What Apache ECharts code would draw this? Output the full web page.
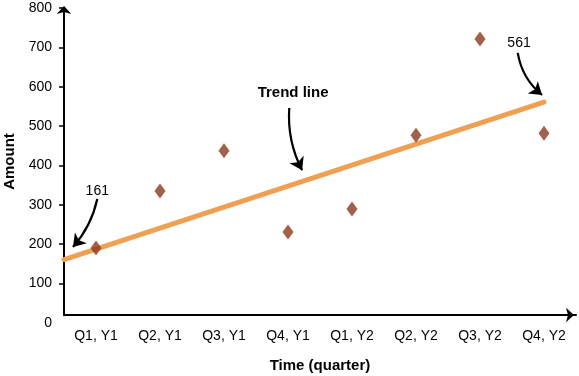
<!DOCTYPE html>
<html lang="en">

<head>
    <meta charset="UTF-8">
    <title>Trend line</title>
    <script src="https://cdn.jsdelivr.net/npm/echarts@6/dist/echarts.min.js"></script>
    <style>
        * {
            margin: 0;
            padding: 0
        }

        #main {
            width: 579px;
            height: 376px;
        }
    </style>
</head>

<body>
    <div id="main"></div>
    <script type="text/javascript">
        var quarters = ['Q1, Y1', 'Q2, Y1', 'Q3, Y1', 'Q4, Y1', 'Q1, Y2', 'Q2, Y2', 'Q3, Y2', 'Q4, Y2'];
        var amounts = [190, 335, 437, 231, 289, 477, 721, 482];
        var trendX = [0, 7.5];        // from the axis to the last quarter
        var trendY = [161, 561];
        var yTicks = [0, 100, 200, 300, 400, 500, 600, 700, 800];
        var yCross = 20;              // x axis crosses a bit above 0

        var font = 'Liberation Sans, Arial, sans-serif';
        var myChart = echarts.init(document.getElementById('main'));

        // curved arrow from [x0, y0] to [x1, y1]
        function arrow(x0, y0, x1, y1, c) {
            return { coords: [[x0, y0], [x1, y1]], lineStyle: { curveness: c } };
        }

        var option = {
            animation: false,
            grid: { left: 64, top: 8, width: 512, bottom: 61, outerBoundsMode: 'none', containLabel: false },
            xAxis: [
                {
                    type: 'category',
                    data: quarters,
                    boundaryGap: true,
                    name: 'Time (quarter)',
                    nameLocation: 'middle',
                    nameGap: 43,
                    nameMoveOverlap: false,
                    nameTextStyle: { fontFamily: font, fontSize: 15, fontWeight: 'bold', color: '#000' },
                    axisLine: {
                        lineStyle: { color: '#000', width: 2 },
                        symbol: ['none', 'arrow'],
                        symbolSize: [11, 8],
                        symbolOffset: [0, -2]
                    },
                    axisTick: { length: 6, lineStyle: { color: '#000', width: 1.5 } },
                    axisLabel: { interval: 0, margin: 14, fontFamily: font, fontSize: 14, color: '#000' }
                },
                { type: 'value', min: 0, max: 8, show: false }
            ],
            yAxis: {
                type: 'value',
                min: yCross,
                max: 800,
                name: 'Amount',
                nameLocation: 'middle',
                nameGap: 47,
                nameMoveOverlap: false,
                nameTextStyle: { fontFamily: font, fontSize: 15, fontWeight: 'bold', color: '#000' },
                splitLine: { show: false },
                axisLine: {
                    show: true,
                    lineStyle: { color: '#000', width: 2 },
                    symbol: ['none', 'arrow'],
                    symbolSize: [11, 8],
                    symbolOffset: [0, 2]
                },
                axisTick: {
                    show: true,
                    length: 5,
                    customValues: yTicks.slice(1),
                    lineStyle: { color: '#000', width: 1.5 }
                },
                axisLabel: {
                    margin: 12,
                    fontFamily: font,
                    fontSize: 14,
                    color: '#000',
                    customValues: [yCross].concat(yTicks.slice(1)),
                    formatter: function (v) {
                        return v === yCross ? '{z|' + yTicks[0] + '}' : v;
                    },
                    rich: { z: { fontFamily: font, fontSize: 14, color: '#000', padding: [16, 0, 0, 0] } }
                }
            },
            series: [
                {
                    type: 'scatter',
                    data: amounts,
                    symbol: 'diamond',
                    symbolSize: [11, 15],
                    itemStyle: { color: '#8B3A1E' },
                    z: 3
                },
                {
                    type: 'line',
                    xAxisIndex: 1,
                    data: trendX.map(function (x, i) { return [x, trendY[i]]; }),
                    symbol: 'none',
                    lineStyle: { color: '#F0A052', width: 5, cap: 'round' },
                    z: 2,
                    markPoint: {
                        silent: true,
                        symbol: 'circle',
                        symbolSize: 1,
                        itemStyle: { color: 'rgba(0,0,0,0)' },
                        label: { show: true, position: 'inside', fontFamily: font, fontSize: 14, color: '#000' },
                        data: [
                            { coord: [0.52, 335], value: trendY[0] },
                            { coord: [3.58, 584], value: 'Trend line', label: { fontWeight: 'bold', fontSize: 15, formatter: 'Trend line' } },
                            { coord: [7.11, 711], value: trendY[1] }
                        ]
                    }
                },
                {
                    type: 'lines',
                    coordinateSystem: 'cartesian2d',
                    xAxisIndex: 1,
                    silent: true,
                    symbol: ['none', 'arrow'],
                    symbolSize: [9, 12],
                    lineStyle: { color: '#000', width: 2.2, opacity: 1 },
                    z: 4,
                    data: [
                        arrow(0.52, 315, 0.14, 193, 0.13),
                        arrow(3.52, 546, 3.72, 388, -0.14),
                        arrow(7.09, 686, 7.47, 579, -0.19)
                    ]
                }
            ]
        };

        myChart.setOption(option);
    </script>
</body>

</html>
